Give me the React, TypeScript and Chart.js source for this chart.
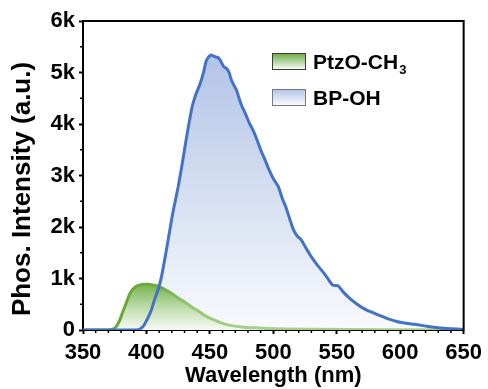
import React, { useEffect, useRef } from "react";
import { Chart, registerables } from "chart.js";

Chart.register(...registerables);

const FONT = '"Liberation Sans", Arial, Helvetica, sans-serif';

// BP-OH emission (wavelength in nm, intensity in a.u.)
const bpWavelength = [
  350, 385, 392, 395, 398, 400, 402, 404, 406, 408, 410, 412, 415, 418, 421, 425, 428, 432, 436, 439,
  442, 445, 447, 449, 451, 453, 455, 457, 459, 461, 463, 465, 467, 469, 471, 473, 475, 478, 481, 484,
  487, 490, 493, 496, 500, 504, 507, 510, 513, 516, 519, 522, 526, 530, 535, 540, 544, 547, 551, 555,
  560, 565, 571, 577, 583, 590, 598, 606, 614, 622, 630, 640, 650,
];
const bpIntensity = [
  0, 0, 0, 20, 90, 180, 280, 400, 560, 700, 850, 1050, 1450, 1880, 2300, 2780, 3200, 3800, 4330, 4580,
  4760, 5000, 5220, 5300, 5340, 5320, 5300, 5280, 5200, 5110, 5080, 5010, 4850, 4750, 4660, 4500, 4360, 4200, 4020, 3880,
  3700, 3500, 3330, 3150, 2940, 2780, 2560, 2380, 2150, 1940, 1820, 1750, 1580, 1420, 1250, 1100, 960, 870, 860, 740,
  620, 520, 420, 350, 290, 220, 160, 125, 100, 70, 45, 25, 10,
];

// PtzO-CH3 emission
const ptzWavelength = [
  350, 370, 373, 376, 379, 381, 384, 387, 390, 392, 395, 398, 401, 404, 407, 410, 415, 420, 425, 431,
  436, 442, 447, 453, 460, 467, 475, 485, 495, 510, 530, 560, 600, 640, 650,
];
const ptzIntensity = [
  0, 0, 10, 60, 190, 330, 520, 710, 810, 850, 875, 890, 890, 880, 865, 840, 780, 710, 620, 530,
  440, 350, 270, 200, 130, 85, 60, 42, 30, 20, 14, 9, 5, 0, 0,
];

const xMin = 350;
const xMax = 650;
const xStep = 50;
const xMinorStep = 10;
const yMin = 0;
const yMax = 6000;
const yStep = 1000;
const yMinorStep = 500;

const seriesNames = ["PtzO-CH", "BP-OH"];
const seriesSub = ["3", ""];
const xTitle = "Wavelength (nm)";
const yTitle = "Phos. Intensity (a.u.)";

function toPoints(xs: number[], ys: number[]) {
  return xs.map((x, i) => ({ x, y: ys[i] }));
}

function vGradient(chart: any, topVal: number, stops: [number, string][]) {
  const { scales, ctx, chartArea } = chart;
  if (!chartArea || !scales || !scales.y) return stops[0][1];
  const top = scales.y.getPixelForValue(topVal);
  const bottom = scales.y.getPixelForValue(0);
  if (!isFinite(top) || !isFinite(bottom) || top === bottom) return stops[0][1];
  const g = ctx.createLinearGradient(0, top, 0, bottom);
  stops.forEach(([o, c]) => g.addColorStop(o, c));
  return g;
}

function hGradient(chart: any, fromVal: number, toVal: number, stops: [number, string][]) {
  const { scales, ctx, chartArea } = chart;
  if (!chartArea || !scales || !scales.x) return stops[0][1];
  const a = scales.x.getPixelForValue(fromVal);
  const b = scales.x.getPixelForValue(toVal);
  if (!isFinite(a) || !isFinite(b) || a === b) return stops[0][1];
  const g = ctx.createLinearGradient(a, 0, b, 0);
  stops.forEach(([o, c]) => g.addColorStop(o, c));
  return g;
}

const framePlugin = {
  id: "frameAndLegend",
  afterDraw(chart: any) {
    const { ctx, chartArea, scales } = chart;
    const { left, right, top, bottom } = chartArea;
    ctx.save();
    // minor ticks
    ctx.strokeStyle = "#000";
    ctx.lineWidth = 1.5;
    for (let v = xMin; v <= xMax; v += xMinorStep) {
      if (v % xStep === 0) continue;
      const px = scales.x.getPixelForValue(v);
      ctx.beginPath();
      ctx.moveTo(px, bottom);
      ctx.lineTo(px, bottom + 3);
      ctx.stroke();
    }
    for (let v = yMin; v <= yMax; v += yMinorStep) {
      if (v % yStep === 0) continue;
      const py = scales.y.getPixelForValue(v);
      ctx.beginPath();
      ctx.moveTo(left, py);
      ctx.lineTo(left - 3, py);
      ctx.stroke();
    }
    // top and right frame
    ctx.lineWidth = 2;
    ctx.beginPath();
    ctx.moveTo(left - 1, top);
    ctx.lineTo(right, top);
    ctx.lineTo(right, bottom + 1);
    ctx.stroke();

    // y axis title
    ctx.save();
    ctx.translate(23, 189);
    ctx.rotate(-Math.PI / 2);
    ctx.fillStyle = "#000";
    ctx.font = `bold 26px ${FONT}`;
    ctx.textAlign = "center";
    ctx.textBaseline = "middle";
    ctx.fillText(yTitle, 0, 0);
    ctx.restore();

    // legend
    const boxX = 272;
    const boxW = 33;
    const boxH = 16;
    const rows = [
      { y: 53, c0: "rgb(104,168,60)", c1: "rgb(246,250,244)", border: "rgb(60,60,60)" },
      { y: 89, c0: "rgb(176,194,230)", c1: "rgb(250,251,254)", border: "rgb(120,120,120)" },
    ];
    rows.forEach((r, i) => {
      const g = ctx.createLinearGradient(0, r.y, 0, r.y + boxH);
      g.addColorStop(0, r.c0);
      g.addColorStop(1, r.c1);
      ctx.fillStyle = g;
      ctx.fillRect(boxX, r.y, boxW, boxH);
      ctx.strokeStyle = r.border;
      ctx.lineWidth = 1;
      ctx.strokeRect(boxX + 0.5, r.y + 0.5, boxW, boxH);
      ctx.fillStyle = "#000";
      ctx.textAlign = "left";
      ctx.textBaseline = "alphabetic";
      ctx.font = `bold 21px ${FONT}`;
      const tx = 313;
      const ty = r.y + 16;
      ctx.fillText(seriesNames[i], tx, ty);
      if (seriesSub[i]) {
        const w = ctx.measureText(seriesNames[i]).width;
        ctx.font = `bold 13px ${FONT}`;
        ctx.fillText(seriesSub[i], tx + w + 1, ty + 5);
      }
    });
    ctx.restore();
  },
};

export default function App() {
  const ref = useRef<HTMLCanvasElement | null>(null);

  useEffect(() => {
    document.body.style.margin = "0";
    const canvas = ref.current;
    if (!canvas) return;
    const bpPeak = Math.max(...bpIntensity);
    const ptzPeak = Math.max(...ptzIntensity);

    const chart = new Chart(canvas, {
      type: "line",
      data: {
        datasets: [
          {
            label: "BP-OH line",
            data: toPoints(bpWavelength, bpIntensity),
            borderColor: "rgb(68,114,196)",
            borderWidth: 3,
            fill: false,
            pointRadius: 0,
            tension: 0.2,
            order: 0,
          },
          {
            label: "PtzO-CH3",
            data: toPoints(ptzWavelength, ptzIntensity),
            borderColor: (c: any) =>
              hGradient(c.chart, 370, 470, [
                [0, "rgb(100,166,56)"],
                [0.4, "rgb(108,172,64)"],
                [0.65, "rgb(150,198,118)"],
                [1, "rgb(166,207,139)"],
              ]),
            backgroundColor: (c: any) =>
              vGradient(c.chart, ptzPeak, [
                [0, "rgb(118,178,78)"],
                [0.5, "rgb(190,220,170)"],
                [1, "rgb(246,250,244)"],
              ]),
            borderWidth: 3,
            fill: "origin",
            pointRadius: 0,
            cubicInterpolationMode: "monotone",
            order: 1,
          },
          {
            label: "BP-OH",
            data: toPoints(bpWavelength, bpIntensity),
            borderWidth: 0,
            borderColor: "rgba(0,0,0,0)",
            backgroundColor: (c: any) =>
              vGradient(c.chart, bpPeak, [
                [0, "rgb(178,196,230)"],
                [1, "rgb(249,250,253)"],
              ]),
            fill: "origin",
            pointRadius: 0,
            tension: 0.2,
            order: 2,
          },
        ],
      },
      options: {
        responsive: false,
        animation: false,
        layout: { padding: { top: 21, right: 22, left: 0, bottom: 0 } },
        plugins: { legend: { display: false }, tooltip: { enabled: false } },
        scales: {
          x: {
            type: "linear",
            min: xMin,
            max: xMax,
            afterFit: (s: any) => {
              s.height = 59;
            },
            ticks: {
              stepSize: xStep,
              color: "#000",
              padding: 6,
              maxRotation: 0,
              font: { family: FONT, size: 22, weight: "bold" },
            },
            grid: {
              drawOnChartArea: false,
              drawTicks: true,
              tickLength: 4,
              tickWidth: 2,
              tickColor: "#000",
            },
            border: { display: true, color: "#000", width: 2 },
            title: {
              display: true,
              text: xTitle,
              color: "#000",
              padding: { top: 0, bottom: 0 },
              font: { family: FONT, size: 22, weight: "bold" },
            },
          },
          y: {
            type: "linear",
            min: yMin,
            max: yMax,
            afterFit: (s: any) => {
              s.width = 83;
            },
            ticks: {
              stepSize: yStep,
              color: "#000",
              padding: 4,
              font: { family: FONT, size: 22, weight: "bold" },
              callback: (v: any) => (v === 0 ? "0" : `${v / 1000}k`),
            },
            grid: {
              drawOnChartArea: false,
              drawTicks: true,
              tickLength: 4,
              tickWidth: 2,
              tickColor: "#000",
            },
            border: { display: true, color: "#000", width: 2 },
            title: { display: false },
          },
        },
      },
      plugins: [framePlugin],
    });
    return () => chart.destroy();
  }, []);

  return (
    <div style={{ position: "absolute", left: 0, top: 0, width: 488, height: 389 }}>
      <canvas ref={ref} width={488} height={389} style={{ display: "block" }} />
    </div>
  );
}
